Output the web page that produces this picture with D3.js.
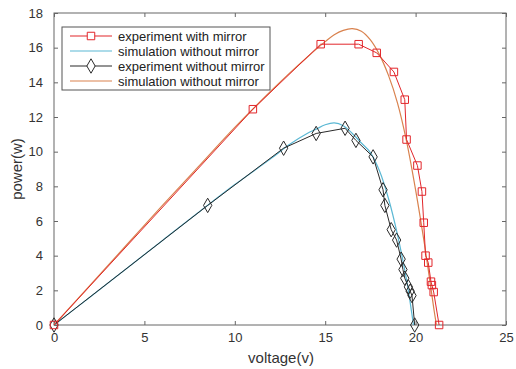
<!DOCTYPE html>
<html>
<head>
<meta charset="utf-8">
<title>Power vs voltage</title>
<style>
  body { margin: 0; background: #fff; }
  svg { display: block; font-family: "Liberation Sans", Arial, sans-serif; }
  .axis text { font-size: 13px; fill: #333; }
  .axis path, .axis line { stroke: #666; }
</style>
</head>
<body>
<div id="chart"></div>
<script src="https://cdnjs.cloudflare.com/ajax/libs/d3/7.8.5/d3.min.js"></script>
<script>
// experiment with mirror (red squares)
const expMirrorV = [0, 11.0, 14.75, 16.85, 17.85, 18.8, 19.4, 19.5, 20.1, 20.35, 20.45, 20.55, 20.7, 20.85, 20.9, 21.0, 21.3];
const expMirrorP = [0, 12.45, 16.2, 16.2, 15.7, 14.6, 13.0, 10.7, 9.2, 7.7, 5.9, 4.0, 3.6, 2.5, 2.3, 1.9, 0];

// experiment without mirror (black diamonds)
const expNoMirrorV = [0, 8.5, 12.7, 14.5, 16.1, 16.7, 17.65, 18.2, 18.3, 18.65, 18.95, 19.2, 19.3, 19.4, 19.6, 19.7, 19.8, 19.95];
const expNoMirrorP = [0, 6.9, 10.2, 11.05, 11.35, 10.65, 9.7, 7.8, 6.9, 5.5, 4.9, 3.8, 3.2, 2.7, 2.2, 1.95, 1.7, 0];

// simulation curves
const simMirrorV = [0, 2, 4, 6, 8, 10, 12, 13, 14, 15, 15.5, 16, 16.5, 17, 17.5, 18, 18.5, 19, 19.5, 20, 20.5, 21, 21.15];
const simMirrorP = [0, 2.3, 4.6, 6.9, 9.15, 11.4, 13.5, 14.5, 15.45, 16.35, 16.75, 17.0, 17.1, 16.95, 16.45, 15.6, 14.4, 12.8, 10.6, 7.8, 4.6, 1.0, 0];
const simNoMirrorV = [0, 2, 4, 6, 8, 10, 12, 13, 14, 14.5, 15, 15.5, 16, 16.5, 17, 17.5, 18, 18.5, 19, 19.5, 19.8, 19.88];
const simNoMirrorP = [0, 1.62, 3.25, 4.88, 6.5, 8.1, 9.6, 10.4, 11.05, 11.3, 11.55, 11.66, 11.5, 11.05, 10.5, 9.95, 8.9, 7.3, 5.2, 2.6, 0.6, 0];

const xTicks = [0, 5, 10, 15, 20, 25];
const yTicks = [0, 2, 4, 6, 8, 10, 12, 14, 16, 18];

const legendLabels = ["experiment with mirror", "simulation without mirror", "experiment without mirror", "simulation without mirror"];

const zip = (a, b) => a.map((v, i) => [v, b[i]]);

const width = 516, height = 369;
const margin = { top: 13, right: 10, bottom: 44, left: 54 };
const innerW = width - margin.left - margin.right;
const innerH = height - margin.top - margin.bottom;

const x = d3.scaleLinear().domain([0, 25]).range([0, innerW]);
const y = d3.scaleLinear().domain([0, 18]).range([innerH, 0]);

const svg = d3.select("#chart").append("svg")
  .attr("width", width)
  .attr("height", height);

const g = svg.append("g").attr("transform", `translate(${margin.left},${margin.top})`);

// box
g.append("rect")
  .attr("width", innerW).attr("height", innerH)
  .attr("fill", "none").attr("stroke", "#666");

// axes, ticks inward
g.append("g").attr("class", "axis")
  .attr("transform", `translate(0,${innerH})`)
  .call(d3.axisBottom(x).tickValues(xTicks).tickSizeInner(-4).tickSizeOuter(0).tickPadding(8));
g.append("g").attr("class", "axis")
  .call(d3.axisLeft(y).tickValues(yTicks).tickSizeInner(-4).tickSizeOuter(0).tickPadding(11));
g.append("g").attr("class", "axis")
  .attr("transform", `translate(${innerW},0)`)
  .call(d3.axisRight(y).tickValues(yTicks).tickSizeInner(-4).tickSizeOuter(0).tickFormat(""));
g.append("g").attr("class", "axis")
  .call(d3.axisTop(x).tickValues(xTicks).tickSizeInner(-4).tickSizeOuter(0).tickFormat(""));
g.selectAll(".axis .domain").remove();

// axis labels
svg.append("text")
  .attr("x", margin.left + innerW / 2 + 1).attr("y", 363)
  .attr("text-anchor", "middle").attr("font-size", 15).attr("fill", "#333")
  .text("voltage(v)");
svg.append("text")
  .attr("transform", `translate(22,${margin.top + innerH / 2}) rotate(-90)`)
  .attr("text-anchor", "middle").attr("font-size", 15).attr("fill", "#333")
  .text("power(w)");

const straight = d3.line().x(d => x(d[0])).y(d => y(d[1]));
const smooth = d3.line().x(d => x(d[0])).y(d => y(d[1])).curve(d3.curveCatmullRom.alpha(0.5));

const red = "#e2262b", orange = "#d9824e", blue = "#5bb8d4", black = "#2a2a2a";

// simulation curves and experiment lines
g.append("path").datum(zip(simNoMirrorV, simNoMirrorP))
  .attr("d", smooth).attr("fill", "none").attr("stroke", blue).attr("stroke-width", 1.2);
g.append("path").datum(zip(expNoMirrorV, expNoMirrorP))
  .attr("d", straight).attr("fill", "none").attr("stroke", black).attr("stroke-width", 1);
g.append("path").datum(zip(simMirrorV, simMirrorP))
  .attr("d", smooth).attr("fill", "none").attr("stroke", orange).attr("stroke-width", 1.2);
g.append("path").datum(zip(expMirrorV, expMirrorP))
  .attr("d", straight).attr("fill", "none").attr("stroke", red).attr("stroke-width", 1);

const square = d3.symbol().type(d3.symbolSquare).size(56);
const diamond = d3.symbol().type(d3.symbolDiamond).size(60);

g.selectAll(".dia").data(zip(expNoMirrorV, expNoMirrorP)).join("path")
  .attr("class", "dia")
  .attr("transform", d => `translate(${x(d[0])},${y(d[1])})`)
  .attr("d", diamond).attr("fill", "none").attr("stroke", black).attr("stroke-width", 1);
g.selectAll(".sq").data(zip(expMirrorV, expMirrorP)).join("path")
  .attr("class", "sq")
  .attr("transform", d => `translate(${x(d[0])},${y(d[1])})`)
  .attr("d", square).attr("fill", "none").attr("stroke", red).attr("stroke-width", 1);

// legend
const leg = svg.append("g").attr("transform", "translate(62,27)");
leg.append("rect").attr("width", 208).attr("height", 63)
  .attr("fill", "#fff").attr("stroke", "#555");
const legStyles = [
  { color: red, marker: square },
  { color: blue, marker: null },
  { color: black, marker: diamond },
  { color: orange, marker: null }
];
legendLabels.forEach((label, i) => {
  const row = leg.append("g").attr("transform", `translate(0,${9 + i * 15})`);
  row.append("line").attr("x1", 8).attr("x2", 50).attr("stroke", legStyles[i].color).attr("stroke-width", 1.2);
  if (legStyles[i].marker) {
    row.append("path").attr("transform", "translate(29,0)")
      .attr("d", legStyles[i].marker).attr("fill", "#fff")
      .attr("stroke", legStyles[i].color);
  }
  row.append("text").attr("x", 56).attr("y", 4.5)
    .attr("font-size", 13).attr("fill", "#222").text(label);
});
</script>
</body>
</html>
